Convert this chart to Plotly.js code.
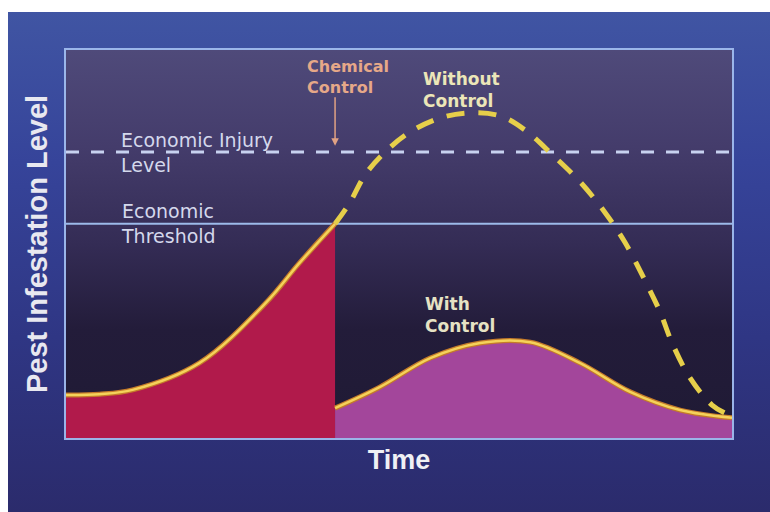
<!DOCTYPE html>
<html>
<head>
<meta charset="utf-8">
<script src="https://cdn.plot.ly/plotly-3.0.1.min.js"></script>
<style>
  html, body { margin: 0; padding: 0; background: #ffffff; }
  #wrap { position: relative; width: 770px; height: 512px; overflow: hidden; background: #ffffff; }
  #outer { position: absolute; left: 8px; top: 12px; right: 0; bottom: 0;
    background: linear-gradient(180deg, #4055a3 0%, #36449a 30%, #2f3684 65%, #2b2b6c 100%); }
  #plotbg { position: absolute; left: 66px; top: 50px; width: 666px; height: 388px;
    background: linear-gradient(180deg, #4f4a7a 0%, #443c6b 25%, #342c55 50%, #231c3a 72%, #1f1a34 100%); }
  #chart { position: absolute; left: 0; top: 0; width: 770px; height: 512px; }
</style>
</head>
<body>
<div id="wrap">
  <div id="outer"></div>
  <div id="plotbg"></div>
  <div id="chart"></div>
</div>
<script>
// ---- data (time 0-100, pest level 0-100) ----
const chemicalControlTime = 40.4;
const economicThreshold = 55.2;
const economicInjuryLevel = 73.7;

const timeBefore = [0, 5, 10, 20, 30, 35, 40.4];
const levelBefore = [11.1, 11.3, 12.4, 19.3, 34.8, 45.0, 55.2];

const timeWith = [40.4, 47.1, 54.7, 62.2, 69.7, 77.2, 84.7, 92.2, 100];
const levelWith = [7.7, 13.1, 20.6, 24.5, 24.7, 19.3, 11.9, 7.2, 5.2];

const timeWithout = [40.4, 42.6, 44.9, 47.9, 51.7, 56.2, 60.7, 65.2, 68.9, 73.1, 77.2, 80.9, 83.9, 86.9, 89.2, 91.0, 93.7, 97.0, 99.0];
const levelWithout = [55.2, 60.6, 67.8, 73.7, 78.9, 82.5, 83.8, 83.0, 79.4, 72.9, 66.0, 58.2, 50.5, 40.7, 32.5, 24.5, 15.5, 8.5, 6.4];

const labelInjury = 'Economic Injury<br>Level';
const labelThreshold = 'Economic<br>Threshold';
const labelChemical = 'Chemical<br>Control';
const labelWithout = 'Without<br>Control';
const labelWith = 'With<br>Control';
const xTitle = 'Time';
const yTitle = 'Pest Infestation Level';

// ---- traces ----
const curveLine = { shape: 'spline', smoothing: 1 };
const traces = [
  { x: timeBefore, y: levelBefore, type: 'scatter', mode: 'lines', fill: 'tozeroy',
    fillcolor: '#b11a4b', line: Object.assign({ color: '#c47a2a', width: 5 }, curveLine),
    hoverinfo: 'skip', name: 'Before control' },
  { x: timeBefore, y: levelBefore, type: 'scatter', mode: 'lines',
    line: Object.assign({ color: '#f4d25a', width: 2.5 }, curveLine),
    hoverinfo: 'skip', name: 'Before control line' },
  { x: timeWith, y: levelWith, type: 'scatter', mode: 'lines', fill: 'tozeroy',
    fillcolor: '#a3469b', line: Object.assign({ color: '#c47a2a', width: 5 }, curveLine),
    hoverinfo: 'skip', name: 'With control' },
  { x: timeWith, y: levelWith, type: 'scatter', mode: 'lines',
    line: Object.assign({ color: '#f4d25a', width: 2.5 }, curveLine),
    hoverinfo: 'skip', name: 'With control line' },
  { x: timeWithout, y: levelWithout, type: 'scatter', mode: 'lines',
    line: Object.assign({ color: '#e6cf4a', width: 5, dash: '18px,14px' }, curveLine),
    hoverinfo: 'skip', name: 'Without control' }
];

const axisCommon = {
  showgrid: false, zeroline: false, showticklabels: false, ticks: '',
  showline: true, mirror: true, linecolor: 'rgba(160,188,238,0.95)', linewidth: 2,
  fixedrange: true
};

const layout = {
  width: 770, height: 512,
  margin: { l: 66, r: 38, t: 50, b: 74, pad: 0 },
  paper_bgcolor: 'rgba(0,0,0,0)',
  plot_bgcolor: 'rgba(0,0,0,0)',
  showlegend: false,
  xaxis: Object.assign({}, axisCommon, {
    range: [0, 100],
    title: { text: xTitle, standoff: 11,
      font: { family: 'Liberation Sans, Arial, sans-serif', size: 27, color: '#f0f0f4', weight: 'bold' } }
  }),
  yaxis: Object.assign({}, axisCommon, {
    range: [0, 100],
    title: { text: yTitle, standoff: 8,
      font: { family: 'Liberation Sans, Arial, sans-serif', size: 29, color: '#e8e8f0', weight: 'bold' } }
  }),
  shapes: [
    { type: 'line', xref: 'paper', x0: 0, x1: 1, yref: 'y', y0: economicInjuryLevel, y1: economicInjuryLevel,
      line: { color: '#c8d2f0', width: 3, dash: '13px,12px' }, layer: 'below' },
    { type: 'line', xref: 'paper', x0: 0, x1: 1, yref: 'y', y0: economicThreshold, y1: economicThreshold,
      line: { color: '#9cbaea', width: 2 }, layer: 'below' }
  ],
  annotations: [
    { x: 8.0, y: economicInjuryLevel, xref: 'x', yref: 'y', text: labelInjury, showarrow: false,
      xanchor: 'left', yanchor: 'middle', align: 'left',
      font: { family: 'DejaVu Sans, sans-serif', size: 19, color: '#d4d8ec' } },
    { x: 8.0, y: economicThreshold, xref: 'x', yref: 'y', text: labelThreshold, showarrow: false,
      xanchor: 'left', yanchor: 'middle', align: 'left',
      font: { family: 'DejaVu Sans, sans-serif', size: 19, color: '#d4d8ec' } },
    { x: 42.3, y: 93.0, xref: 'x', yref: 'y', text: labelChemical, showarrow: false,
      xanchor: 'center', yanchor: 'middle', align: 'left',
      font: { family: 'DejaVu Sans, sans-serif', size: 16, color: '#e6a888', weight: 'bold' } },
    { x: chemicalControlTime, y: 75.3, xref: 'x', yref: 'y', text: '', showarrow: true,
      ax: 0, ay: -50, axref: 'pixel', ayref: 'pixel',
      arrowhead: 2, arrowsize: 1, arrowwidth: 1.5, arrowcolor: '#e0a284' },
    { x: 59.4, y: 89.7, xref: 'x', yref: 'y', text: labelWithout, showarrow: false,
      xanchor: 'center', yanchor: 'middle', align: 'left',
      font: { family: 'DejaVu Sans, sans-serif', size: 17, color: '#ece6b8', weight: 'bold' } },
    { x: 53.6, y: 31.7, xref: 'x', yref: 'y', text: labelWith, showarrow: false,
      xanchor: 'left', yanchor: 'middle', align: 'left',
      font: { family: 'DejaVu Sans, sans-serif', size: 17, color: '#e6e2c4', weight: 'bold' } }
  ]
};

Plotly.newPlot('chart', traces, layout, { staticPlot: true, displayModeBar: false });
</script>
</body>
</html>
